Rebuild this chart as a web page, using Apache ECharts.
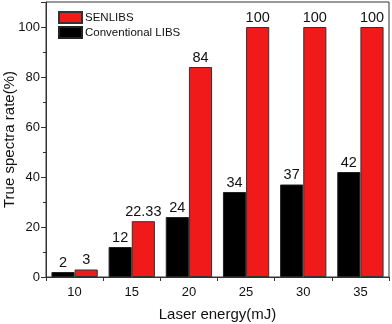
<!DOCTYPE html>
<html>
<head>
<meta charset="utf-8">
<script src="https://cdn.jsdelivr.net/npm/echarts@6/dist/echarts.min.js"></script>
<style>
  html, body { margin: 0; padding: 0; background: #fff; }
  #chart { width: 392px; height: 324px; }
</style>
</head>
<body>
<div id="chart"></div>
<script>
var energies = ['10', '15', '20', '25', '30', '35'];
var conventional = [2, 12, 24, 34, 37, 42];
var senlibs = [3, 22.33, 84, 100, 100, 100];

var font = 'Liberation Sans, Arial, sans-serif';

var chart = echarts.init(document.getElementById('chart'));

chart.setOption({
    backgroundColor: '#fff',
    animation: false,
    textStyle: { fontFamily: font },
    legend: {
        left: 53,
        top: 6,
        orient: 'vertical',
        icon: 'rect',
        itemWidth: 23,
        itemHeight: 11,
        itemGap: 2,
        data: ['SENLIBS', 'Conventional LIBS'],
        textStyle: { fontFamily: font, fontSize: 11.5, color: '#111', padding: [0, 0, 0, -2] }
    },
    grid: {
        left: 46,
        right: 3,
        top: 2,
        bottom: 47,
        outerBoundsMode: 'none',
        containLabel: false,
        show: true,
        borderColor: '#333',
        borderWidth: 1
    },
    xAxis: {
        type: 'category',
        data: energies,
        name: 'Laser energy(mJ)',
        nameLocation: 'middle',
        nameGap: 30,
        nameMoveOverlap: false,
        nameTextStyle: { fontFamily: font, fontSize: 15, color: '#111' },
        axisLine: { lineStyle: { color: '#333', width: 1 } },
        axisTick: { show: true, length: 4, lineStyle: { color: '#333' } },
        axisLabel: { fontFamily: font, fontSize: 13, color: '#111', margin: 9 },
        splitLine: { show: false }
    },
    yAxis: {
        type: 'value',
        min: 0,
        max: 110,
        interval: 20,
        name: 'True spectra rate(%)',
        nameLocation: 'middle',
        nameGap: 29,
        nameMoveOverlap: false,
        nameTextStyle: { fontFamily: font, fontSize: 15, color: '#111' },
        axisLine: { show: true, lineStyle: { color: '#333', width: 1 } },
        axisTick: { show: true, length: 5, lineStyle: { color: '#333' } },
        minorTick: { show: true, splitNumber: 2, length: 3, lineStyle: { color: '#333' } },
        axisLabel: { fontFamily: font, fontSize: 13, color: '#111', margin: 6, showMaxLabel: false },
        splitLine: { show: false }
    },
    series: [
        {
            name: 'Conventional LIBS',
            type: 'bar',
            data: conventional,
            barGap: '0%',
            barCategoryGap: '19%',
            itemStyle: { color: '#000', borderColor: '#222', borderWidth: 1 },
            label: { show: true, position: 'top', fontFamily: font, fontSize: 14.5, color: '#111', distance: 2 }
        },
        {
            name: 'SENLIBS',
            type: 'bar',
            data: senlibs,
            barGap: '0%',
            barCategoryGap: '19%',
            itemStyle: { color: '#f01a1a', borderColor: '#333', borderWidth: 1 },
            label: { show: true, position: 'top', fontFamily: font, fontSize: 14.5, color: '#111', distance: 2 }
        }
    ]
});
</script>
</body>
</html>
